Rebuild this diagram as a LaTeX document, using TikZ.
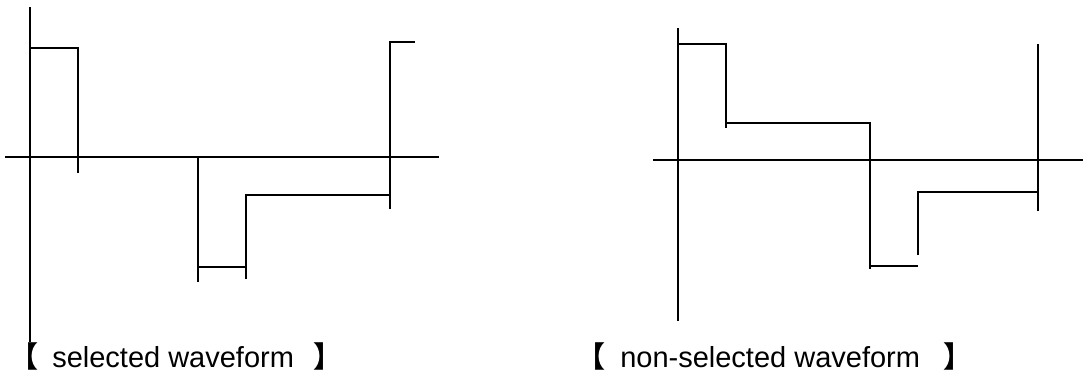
\documentclass[tikz,border=0pt]{standalone}
\usepackage{fontspec}
\setmainfont{Liberation Sans}
\newfontfamily\cjk{Noto Sans CJK SC}
\tikzset{
  wave/.style={line width=2pt, line cap=butt, line join=miter},
  axis/.style={line width=2pt},
  lbl/.style={anchor=base west, inner sep=0pt, font=\fontsize{29}{33}\selectfont}
}
\begin{document}
\begin{tikzpicture}[x=1pt,y=-1pt]
\useasboundingbox (0,0) rectangle (1083,373);
% ---- selected waveform ----
\draw[axis] (30,7) -- (30,342);
\draw[axis] (5,157) -- (439,157);
\draw[wave] (30,48) -- (78,48) -- (78,173);
\draw[wave] (198,157) -- (198,282);
\draw[wave] (198,267) -- (246,267);
\draw[wave] (246,279) -- (246,195) -- (390,195);
\draw[wave] (390,209) -- (390,42) -- (415,42);
\node[lbl] (lblA) at (9.5,367) {{\cjk\bfseries 【}\hspace{5.5pt} selected waveform \hspace{11pt}{\cjk\bfseries 】}};
% ---- non-selected waveform ----
\draw[axis] (678,28) -- (678,321);
\draw[axis] (653,160) -- (1083,160);
\draw[wave] (678,44) -- (726,44) -- (726,128);
\draw[wave] (726,123) -- (870,123) -- (870,269);
\draw[wave] (870,266) -- (918,266);
\draw[wave] (918,255) -- (918,192) -- (1038,192);
\draw[wave] (1038,44) -- (1038,211);
\node[lbl] (lblB) at (576,367) {{\cjk\bfseries 【}\hspace{7pt} non-selected waveform \hspace{15pt}{\cjk\bfseries 】}};
\end{tikzpicture}
\end{document}
